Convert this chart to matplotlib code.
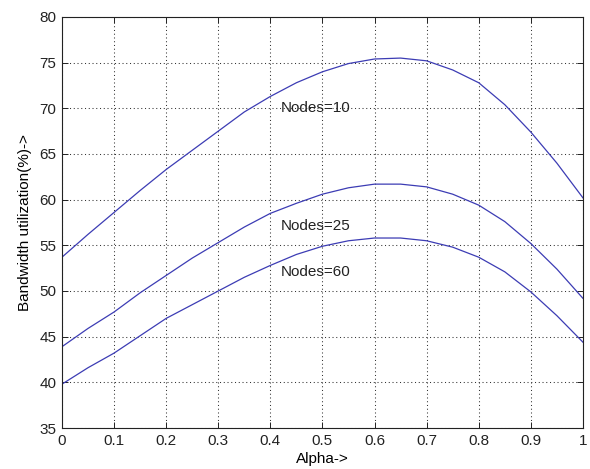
import matplotlib
matplotlib.use("Agg")
import matplotlib.pyplot as plt
import numpy as np

plt.rcParams['font.family'] = ['Liberation Sans', 'DejaVu Sans']

# values
alpha = [0.0, 0.05, 0.1, 0.15, 0.2, 0.25, 0.3, 0.35, 0.4, 0.45, 0.5,
         0.55, 0.6, 0.65, 0.7, 0.75, 0.8, 0.85, 0.9, 0.95, 1.0]
nodes10 = [53.7, 56.2, 58.6, 61.0, 63.3, 65.4, 67.5, 69.6, 71.3, 72.8, 74.0,
           74.9, 75.4, 75.5, 75.2, 74.2, 72.8, 70.4, 67.4, 64.0, 60.2]
nodes25 = [43.9, 45.9, 47.7, 49.8, 51.7, 53.6, 55.3, 57.0, 58.5, 59.6, 60.6,
           61.3, 61.7, 61.7, 61.4, 60.6, 59.4, 57.6, 55.2, 52.4, 49.2]
nodes60 = [39.8, 41.6, 43.2, 45.1, 47.0, 48.5, 50.0, 51.5, 52.8, 54.0, 54.9,
           55.5, 55.8, 55.8, 55.5, 54.8, 53.7, 52.1, 49.9, 47.3, 44.4]
labels = ['Nodes=10', 'Nodes=25', 'Nodes=60']
label_pos = [(0.42, 70.0), (0.42, 57.1), (0.42, 52.1)]

xticks = np.arange(0, 1.01, 0.1)
yticks = np.arange(35, 81, 5)
xticklabels = ['0', '0.1', '0.2', '0.3', '0.4', '0.5', '0.6', '0.7', '0.8', '0.9', '1']

fig = plt.figure(figsize=(5.9, 4.69), dpi=100)
ax = fig.add_axes([0.105, 0.0874, 0.883, 0.8764])

line_color = '#3c3cb4'
for ys in (nodes10, nodes25, nodes60):
    ax.plot(alpha, ys, color=line_color, linewidth=0.9)

for txt, (tx, ty) in zip(labels, label_pos):
    ax.text(tx, ty, txt, fontsize=11, ha='left', va='center', color='#222222')

ax.set_xlim(0, 1)
ax.set_ylim(35, 80)
ax.set_xticks(xticks)
ax.set_xticklabels(xticklabels)
ax.set_yticks(yticks)
ax.tick_params(direction='in', top=True, right=True, labelsize=11,
               length=4, width=0.7, colors='#222222', pad=4)
ax.grid(True, linestyle=(0, (1, 2.6)), color='#333333', linewidth=0.75)
for s in ax.spines.values():
    s.set_linewidth(0.8)
    s.set_color('#222222')

ax.set_xlabel('Alpha->', fontsize=11, labelpad=3)
ax.set_ylabel('Bandwidth utilization(%)->', fontsize=11, labelpad=5)

fig.savefig('out.png', dpi=100)
